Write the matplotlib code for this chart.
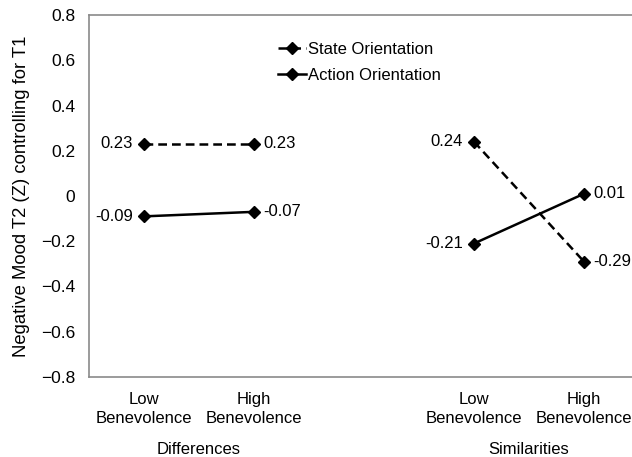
import matplotlib
matplotlib.use("Agg")
import matplotlib.pyplot as plt
import matplotlib.transforms as mtransforms

plt.rcParams['font.family'] = ['Liberation Sans', 'DejaVu Sans']

# data
groups = ['Differences', 'Similarities']
levels = ['Low\nBenevolence', 'High\nBenevolence']
state_diff = [0.23, 0.23]
action_diff = [-0.09, -0.07]
state_sim = [0.24, -0.29]
action_sim = [-0.21, 0.01]
yticks = [-0.8, -0.6, -0.4, -0.2, 0, 0.2, 0.4, 0.6, 0.8]

x_diff = [1, 2]
x_sim = [4, 5]

fig = plt.figure(figsize=(6.32, 4.57), dpi=100)
ax = fig.add_axes([89 / 632, 80 / 457, 550 / 632, 362 / 457])

mk = dict(marker='D', markersize=6.5, color='black', lw=1.8)
ax.plot(x_diff, state_diff, ls=(0, (3.5, 2)), label='State Orientation', **mk)
ax.plot(x_diff, action_diff, ls='-', label='Action Orientation', **mk)
ax.plot(x_sim, state_sim, ls=(0, (3.5, 2)), **mk)
ax.plot(x_sim, action_sim, ls='-', **mk)

FS = 12

def lab(x, y, side):
    dx = -8 if side == 'l' else 6.5
    ax.annotate(f"{y:.2f}", (x, y), xytext=(dx, 0), textcoords='offset points',
                ha='right' if side == 'l' else 'left', va='center', fontsize=FS)

lab(x_diff[0], state_diff[0], 'l')
lab(x_diff[1], state_diff[1], 'r')
lab(x_diff[0], action_diff[0], 'l')
lab(x_diff[1], action_diff[1], 'r')
lab(x_sim[0], state_sim[0], 'l')
lab(x_sim[1], state_sim[1], 'r')
lab(x_sim[0], action_sim[0], 'l')
lab(x_sim[1], action_sim[1], 'r')

ax.set_xlim(0.5, 5.5)
ax.set_ylim(-0.8, 0.8)
ax.set_yticks(yticks)
ax.set_yticklabels([('\u2212' + f"{abs(v):.1f}") if v < 0 else ("0" if v == 0 else f"{v:.1f}") for v in yticks])
ax.set_xticks(x_diff + x_sim)
ax.set_xticklabels(levels + levels, fontsize=FS, linespacing=1.37)
ax.tick_params(axis='both', length=0)
ax.tick_params(axis='y', labelsize=12.5, pad=10)
ax.tick_params(axis='x', pad=10.5)
for s in ax.spines.values():
    s.set_color('#8a8a8a')
    s.set_linewidth(1.2)

ax.set_ylabel('Negative Mood T2 (Z) controlling for T1', fontsize=13.3, labelpad=8)

trans = mtransforms.blended_transform_factory(ax.transData, fig.transFigure)
ax.text(sum(x_diff) / 2, 9 / 457, groups[0], transform=trans, ha='center', va='center_baseline', fontsize=FS)
ax.text(sum(x_sim) / 2, 9 / 457, groups[1], transform=trans, ha='center', va='center_baseline', fontsize=FS)

ax.legend(loc='upper left', bbox_to_anchor=(278 / 632, 1 - 42 / 457), bbox_transform=fig.transFigure,
          frameon=False, fontsize=FS, handlelength=1.7, handletextpad=0.1, labelspacing=0.63,
          borderpad=0, borderaxespad=0)

fig.savefig('out.png', dpi=100)
